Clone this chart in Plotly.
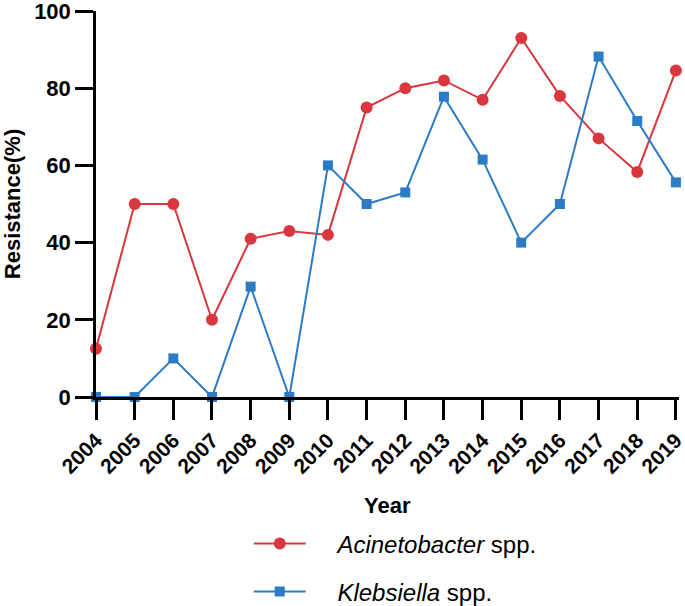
import plotly.graph_objects as go

years = list(range(2004, 2020))
acinetobacter = [12.5, 50, 50, 20, 41, 43, 42, 75, 80, 82, 77, 93, 78, 67, 58.3, 84.6]
klebsiella = [0, 0, 10, 0, 28.6, 0, 60, 50, 53, 77.8, 61.5, 40, 50, 88.2, 71.5, 55.6]
y_ticks = [0, 20, 40, 60, 80, 100]

RED = "#D9363E"
BLUE = "#2B7BC6"
FONT = "Arial, Liberation Sans, sans-serif"
PAD = "\u00a0" * 4

fig = go.Figure()
fig.add_trace(go.Scatter(
    x=years, y=acinetobacter, mode="lines+markers",
    name=PAD + "<i>Acinetobacter</i> spp.", legendgroup="a",
    line=dict(color=RED, width=2),
    marker=dict(symbol="circle", size=12, color=RED),
    cliponaxis=False,
))
fig.add_trace(go.Scatter(
    x=years, y=klebsiella, mode="lines+markers",
    name=PAD + "<i>Klebsiella</i> spp.", legendgroup="k",
    line=dict(color=BLUE, width=2),
    marker=dict(symbol="square", size=10, color=BLUE),
    cliponaxis=False,
))

fig.update_layout(
    width=685, height=606,
    margin=dict(l=96, r=6, t=11, b=209, autoexpand=False),
    plot_bgcolor="white", paper_bgcolor="white",
    font=dict(family=FONT, color="black"),
    showlegend=True,
    legend=dict(
        x=0.262, y=-0.322, xanchor="left", yanchor="top",
        font=dict(size=24, family=FONT, color="black"),
        tracegroupgap=14, traceorder="grouped",
        itemwidth=52,
    ),
    annotations=[dict(
        text="<b>Year</b>", xref="paper", yref="paper", x=0.5, y=-0.282,
        xanchor="center", yanchor="middle", showarrow=False,
        font=dict(size=22, family=FONT, color="black"),
    )],
)
fig.update_xaxes(
    range=[2004, 2019.08], tickmode="array", tickvals=years,
    ticktext=[str(y) for y in years], tickangle=-45, automargin=False,
    showline=True, linecolor="black", linewidth=2.5,
    ticks="outside", ticklen=20, tickwidth=2.5, tickcolor="black",
    showgrid=False, zeroline=False, ticklabeloverflow="allow",
    tickfont=dict(size=21, family=FONT, color="black", weight="bold"),
)
fig.update_yaxes(
    range=[0, 100], tickmode="array", tickvals=y_ticks, automargin=False,
    showline=True, linecolor="black", linewidth=2.5,
    ticks="outside", ticklen=18, tickwidth=2.5, tickcolor="black",
    showgrid=False, zeroline=False, ticklabeloverflow="allow",
    tickfont=dict(size=22, family=FONT, color="black", weight="bold"),
    title=dict(text="<b>Resistance(%)</b>", font=dict(size=22, family=FONT, color="black"), standoff=19),
)

fig.write_html("out.html", config={"displayModeBar": False},
               post_script="document.body.style.margin='0px';")
